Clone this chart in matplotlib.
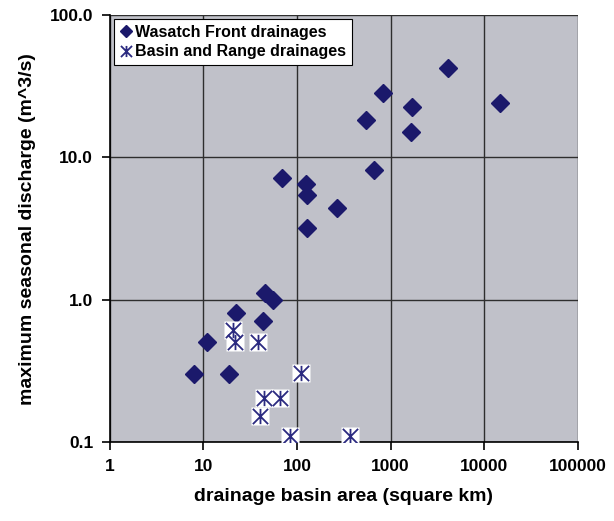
import matplotlib
matplotlib.use("Agg")
import matplotlib.pyplot as plt
from matplotlib.path import Path
from matplotlib.ticker import FixedLocator, FixedFormatter, NullLocator

plt.rcParams['font.family'] = ['Liberation Sans', 'DejaVu Sans']

# Wasatch Front drainages
wasatch_area = [4120, 819, 1683, 14900, 539, 1644, 661, 68.8, 126, 128, 266, 127,
                46, 55.6, 22.4, 43.1, 10.8, 7.96, 18.8]
wasatch_q = [42.3, 28.2, 22.7, 24.0, 18.3, 15.2, 8.17, 7.2, 6.48, 5.46, 4.4, 3.2,
             1.11, 1.0, 0.81, 0.705, 0.505, 0.303, 0.303]

# Basin and Range drainages
basin_area = [20.8, 21.6, 38.4, 109, 44.5, 65, 40, 83.2, 367]
basin_q = [0.616, 0.505, 0.505, 0.306, 0.204, 0.204, 0.152, 0.111, 0.111]

x_ticks = [1, 10, 100, 1000, 10000, 100000]
x_labels = ["1", "10", "100", "1000", "10000", "100000"]
y_ticks = [0.1, 1, 10, 100]
y_labels = ["0.1", "1.0", "10.0", "100.0"]

C_BG = "#c0c1c9"
C_DIAM = "#1b196b"
C_STAR = "#2b2a80"

# Excel-like star: an X with a vertical bar
star = Path([(-1, -1), (1, 1), (-1, 1), (1, -1), (0, -1), (0, 1)],
            [Path.MOVETO, Path.LINETO, Path.MOVETO, Path.LINETO, Path.MOVETO, Path.LINETO])

fig = plt.figure(figsize=(6.14, 5.21), dpi=100)
ax = fig.add_axes([0.179, 0.1516, 0.762, 0.8194])
ax.set_facecolor(C_BG)
ax.set_xscale("log")
ax.set_yscale("log")
ax.set_xlim(1, 100000)
ax.set_ylim(0.1, 100)

ax.grid(True, which="major", color="#2e2e2e", lw=1.0)
ax.set_axisbelow(True)

ax.plot(wasatch_area, wasatch_q, ls="none", marker="D", ms=9.5,
        mfc=C_DIAM, mec=C_DIAM, zorder=3)
ax.plot(basin_area, basin_q, ls="none", marker="s", ms=12.5,
        mfc="white", mec="none", zorder=4)
ax.plot(basin_area, basin_q, ls="none", marker=star, ms=11,
        mfc="none", mec=C_STAR, mew=1.3, zorder=5)

h_diam, = ax.plot([], [], ls="none", marker="D", ms=6.5, mfc=C_DIAM, mec=C_DIAM,
                  label="Wasatch Front drainages")
h_star, = ax.plot([], [], ls="none", marker=star, ms=8, mfc="none", mec=C_STAR,
                  mew=1.3, label="Basin and Range drainages")

ax.xaxis.set_major_locator(FixedLocator(x_ticks))
ax.xaxis.set_major_formatter(FixedFormatter(x_labels))
ax.xaxis.set_minor_locator(NullLocator())
ax.yaxis.set_major_locator(FixedLocator(y_ticks))
ax.yaxis.set_major_formatter(FixedFormatter(y_labels))
ax.yaxis.set_minor_locator(NullLocator())

for s in ("top", "right"):
    ax.spines[s].set_visible(False)
for s in ("left", "bottom"):
    ax.spines[s].set_color("black")
    ax.spines[s].set_linewidth(1.2)

ax.tick_params(axis="both", direction="out", length=6, width=1.2, colors="black",
               labelsize=12.5, pad=6)
for lab in ax.get_xticklabels() + ax.get_yticklabels():
    lab.set_fontweight("bold")

ax.set_xlabel("drainage basin area (square km)", fontsize=14, fontweight="bold", labelpad=10)
ax.set_ylabel("maximum seasonal discharge (m^3/s)", fontsize=14, fontweight="bold", labelpad=10)

leg = ax.legend(handles=[h_diam, h_star], loc="upper left", frameon=True, fancybox=False,
                framealpha=1, edgecolor="black", facecolor="white", borderaxespad=0.25,
                handletextpad=0.2, handlelength=0.8, borderpad=0.35,
                labelspacing=0.3, prop={"weight": "bold", "size": 11.5})
leg.get_frame().set_linewidth(0.8)

fig.savefig("out.png", dpi=100, facecolor="white")
